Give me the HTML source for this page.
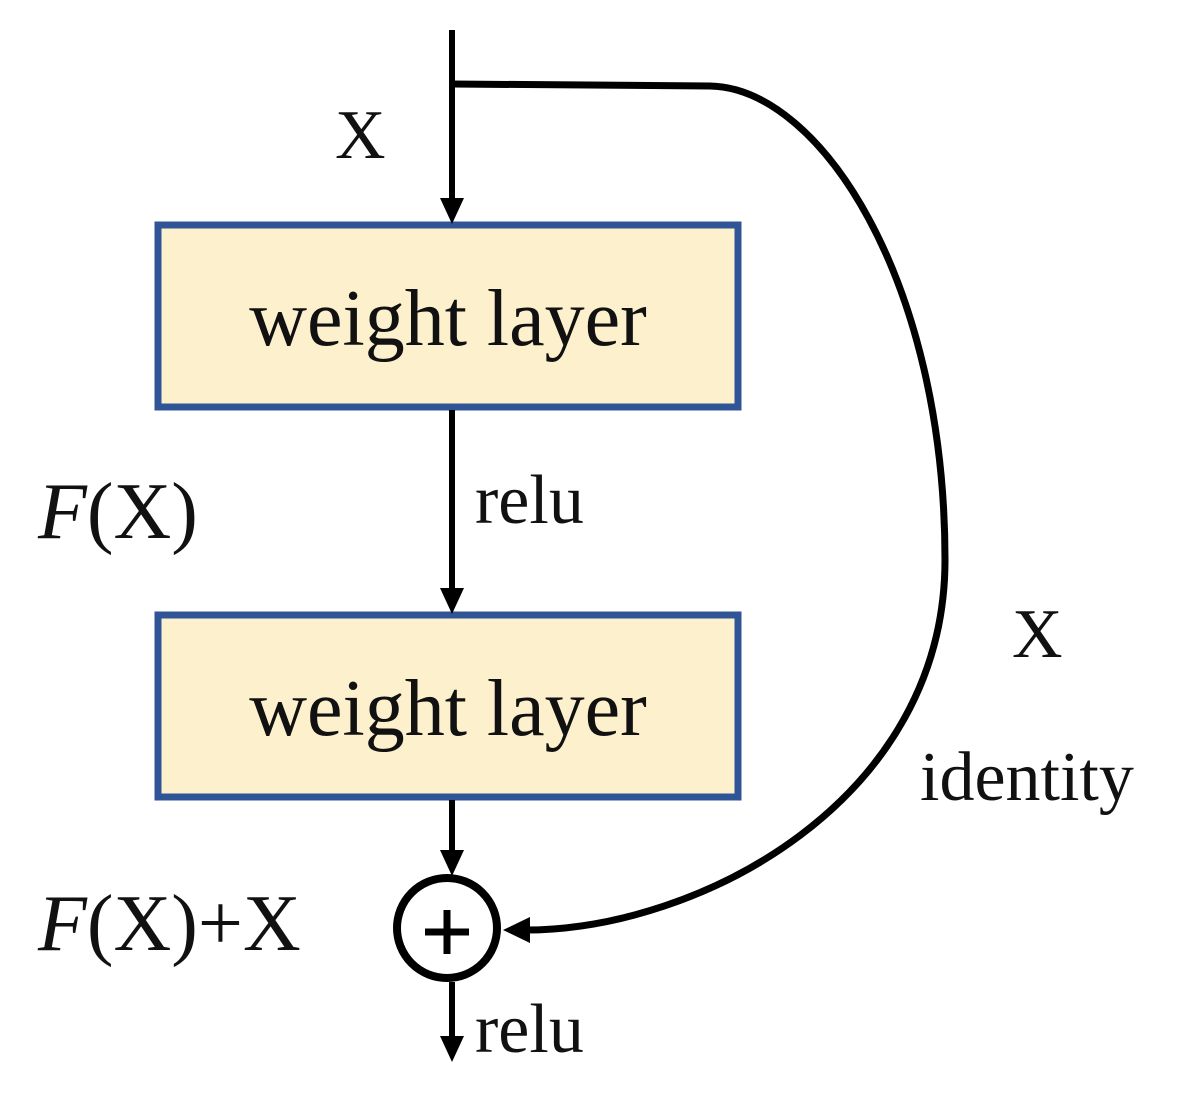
<!DOCTYPE html>
<html><head><style>
body{margin:0;background:#fff}
svg{display:block}
text{font-family:"Liberation Serif",serif;fill:#111}
</style></head><body>
<svg width="1194" height="1102" viewBox="0 0 1194 1102">
<rect x="158" y="225" width="580" height="182" fill="#fdf0cc" stroke="#2f5597" stroke-width="7"/>
<rect x="158" y="615" width="580" height="182" fill="#fdf0cc" stroke="#2f5597" stroke-width="7"/>
<g stroke="#000" stroke-width="6" fill="none">
<line x1="452" y1="30" x2="452" y2="200"/>
<line x1="452" y1="410" x2="452" y2="590"/>
<line x1="452" y1="800" x2="452" y2="852"/>
<line x1="452" y1="982" x2="452" y2="1038"/>
<path d="M452 84 L710 86 C820 88 945 280 945 560 C945 800 700 930 525 930" stroke-width="7"/>
<circle cx="447" cy="928" r="50" stroke-width="8"/>
<line x1="425" y1="932" x2="469" y2="932" stroke-width="7"/>
<line x1="447" y1="910" x2="447" y2="954" stroke-width="7"/>
</g>
<g fill="#000">
<polygon points="440,198 464,198 452,224"/>
<polygon points="440,588 464,588 452,614"/>
<polygon points="440,850 464,850 452,876"/>
<polygon points="440,1036 464,1036 452,1062"/>
<polygon points="530,917 530,943 503,930"/>
</g>
<text x="335" y="158" font-size="70">X</text>
<text x="448" y="345" font-size="80" text-anchor="middle">weight layer</text>
<text x="448" y="735" font-size="80" text-anchor="middle">weight layer</text>
<text x="475" y="523" font-size="70">relu</text>
<text x="38" y="538" font-size="80"><tspan font-style="italic">F</tspan>(X)</text>
<text x="1012" y="657" font-size="70">X</text>
<text x="920" y="800" font-size="70">identity</text>
<text x="38" y="950" font-size="80"><tspan font-style="italic">F</tspan>(X)+X</text>
<text x="475" y="1052" font-size="70">relu</text>
</svg>
</body></html>
